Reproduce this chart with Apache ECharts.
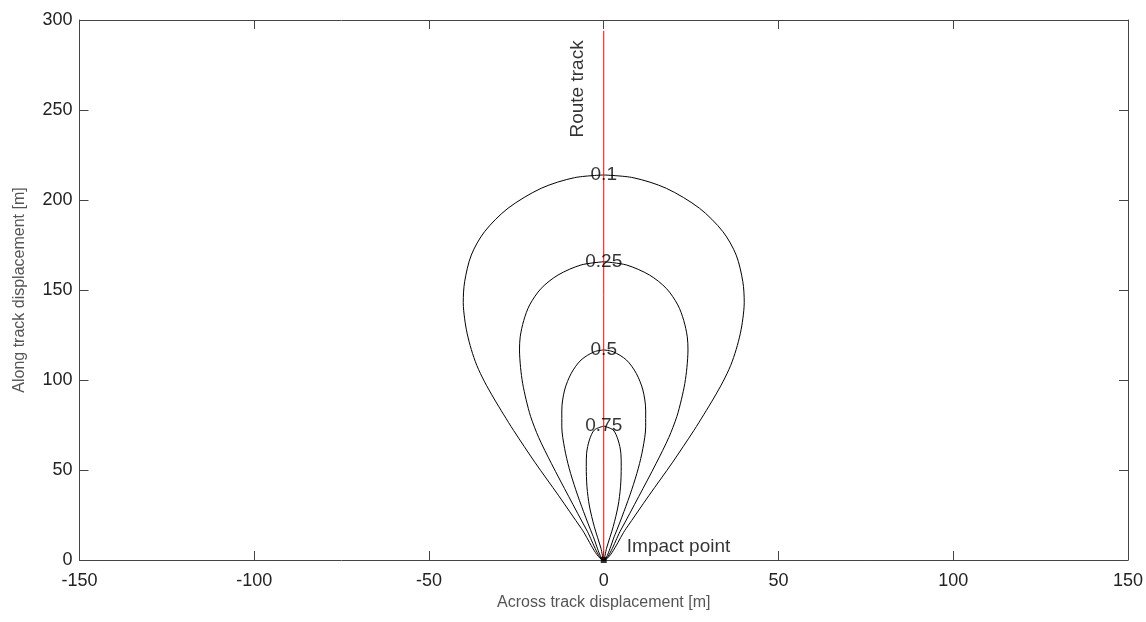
<!DOCTYPE html>
<html>
<head>
<meta charset="utf-8">
<title>Impact contours</title>
<script src="https://cdn.jsdelivr.net/npm/echarts@6/dist/echarts.min.js"></script>
<style>
  html, body { margin: 0; padding: 0; background: #fff; }
  #chart { width: 1146px; height: 622px; }
</style>
</head>
<body>
<div id="chart"></div>
<script>
  // contour levels, right half of each loop (top -> impact point)
  const levels = ['0.1', '0.25', '0.5', '0.75'];
  const contour010 = [[0, 213.9], [8.4, 212.4], [17.9, 206.5], [27.4, 195.4], [34.1, 182.4], [37.9, 169.4], [39.8, 154.6], [40.2, 143], [39.8, 134], [39.1, 126], [37.9, 117], [36.3, 108], [34.1, 99], [31.5, 90], [28.7, 81], [25.8, 72], [19.6, 54], [13, 36], [6.4, 17.5], [0, 0]];
  const contour025 = [[0, 165.7], [6.5, 163.9], [13.1, 158.3], [17.9, 150.9], [21.2, 141.7], [22.9, 133], [23.9, 124], [24.1, 116.7], [23.8, 107], [23.2, 98.1], [22.2, 89], [20.9, 79.6], [18.6, 68], [15, 53.7], [10, 35.2], [4.9, 16.7], [0, 0]];
  const contour050 = [[0, 116.7], [2.7, 115.7], [6.5, 111.1], [9.3, 103.7], [11.2, 94.4], [12, 83.3], [12, 74], [11.2, 62], [9.9, 51], [8, 39], [5.8, 27], [3.2, 14], [0, 0]];
  const contour075 = [[0, 74.4], [2.7, 72.2], [4.1, 66.7], [4.9, 59.3], [5.0, 51.9], [4.8, 40.7], [4.1, 30], [2.7, 18.5], [0.8, 6.5], [0, 0]];
  const routeTrack = [[0, 0], [0, 294]];
  const impactPoint = [0, 0];
  const xTicks = { min: -150, max: 150, interval: 50 };
  const yTicks = { min: 0, max: 300, interval: 50 };

  const halves = [contour010, contour025, contour050, contour075];

  // full loop: right half down to the impact point, then mirrored left half back up
  const loop = half => [...half, ...half.slice(0, -1).reverse().map(p => [-p[0], p[1]])];

  const chart = echarts.init(document.getElementById('chart'), null, { renderer: 'canvas' });
  const font = 'Arial, "Liberation Sans", sans-serif';
  const axisLine = { show: true, onZero: false, lineStyle: { color: '#444', width: 1 } };
  const axisTick = { show: true, inside: true, length: 9, lineStyle: { color: '#444' } };
  const textStyle = { color: '#000', fontSize: 19, fontFamily: font };

  chart.setOption({
    animation: false,
    backgroundColor: '#fff',
    // half-pixel offset so the 1px route line at x = 0 lands on a whole pixel column
    grid: { left: 79.5, right: 16.5, top: 20, bottom: 62 },
    xAxis: [{
      type: 'value', ...xTicks,
      name: 'Across track displacement [m]',
      nameLocation: 'middle', nameGap: 35,
      nameTextStyle: { color: '#555', fontSize: 16, fontFamily: font },
      axisLine, axisTick,
      axisLabel: { color: '#222', fontSize: 18, fontFamily: font, margin: 12 },
      splitLine: { show: false },
    }, {
      type: 'value', position: 'top', ...xTicks,
      axisLine, axisTick, axisLabel: { show: false }, splitLine: { show: false },
    }],
    yAxis: [{
      type: 'value', ...yTicks,
      name: 'Along track displacement [m]',
      nameLocation: 'middle', nameGap: 52,
      nameTextStyle: { color: '#555', fontSize: 16, fontFamily: font },
      axisLine, axisTick,
      axisLabel: { color: '#222', fontSize: 18, fontFamily: font, margin: 7 },
      splitLine: { show: false },
    }, {
      type: 'value', position: 'right', ...yTicks,
      axisLine, axisTick, axisLabel: { show: false }, splitLine: { show: false },
    }],
    series: [
      ...halves.map((half, i) => ({
        name: levels[i],
        type: 'line',
        data: loop(half),
        smooth: 0.3,
        showSymbol: false,
        lineStyle: { color: '#000', width: 1 },
        z: 3,
      })),
      {
        name: 'route',
        type: 'line',
        data: routeTrack,
        showSymbol: false,
        itemStyle: { color: '#ff0000' },
        lineStyle: { color: '#ff0000', width: 1 },
        z: 4,
      },
      {
        type: 'scatter',
        data: [impactPoint],
        symbol: 'rect',
        symbolSize: 6,
        itemStyle: { color: '#000' },
        z: 5,
      },
      {
        // contour level labels, centred on the top of each loop
        type: 'scatter',
        data: halves.map((half, i) => [half[0][0], half[0][1], levels[i]]),
        symbolSize: 0,
        label: { show: true, position: 'inside', formatter: p => p.value[2], ...textStyle },
        z: 6,
      },
      {
        type: 'scatter',
        data: [[-7.4, 261.7, 'Route track']],
        symbolSize: 0,
        label: { show: true, position: 'inside', rotate: 90, formatter: p => p.value[2], ...textStyle },
        z: 6,
      },
      {
        type: 'scatter',
        data: [[6.6, 7.2, 'Impact point']],
        symbolSize: 0,
        label: { show: true, position: 'right', distance: 0, formatter: p => p.value[2], ...textStyle },
        z: 6,
      },
    ],
  });
</script>
</body>
</html>
